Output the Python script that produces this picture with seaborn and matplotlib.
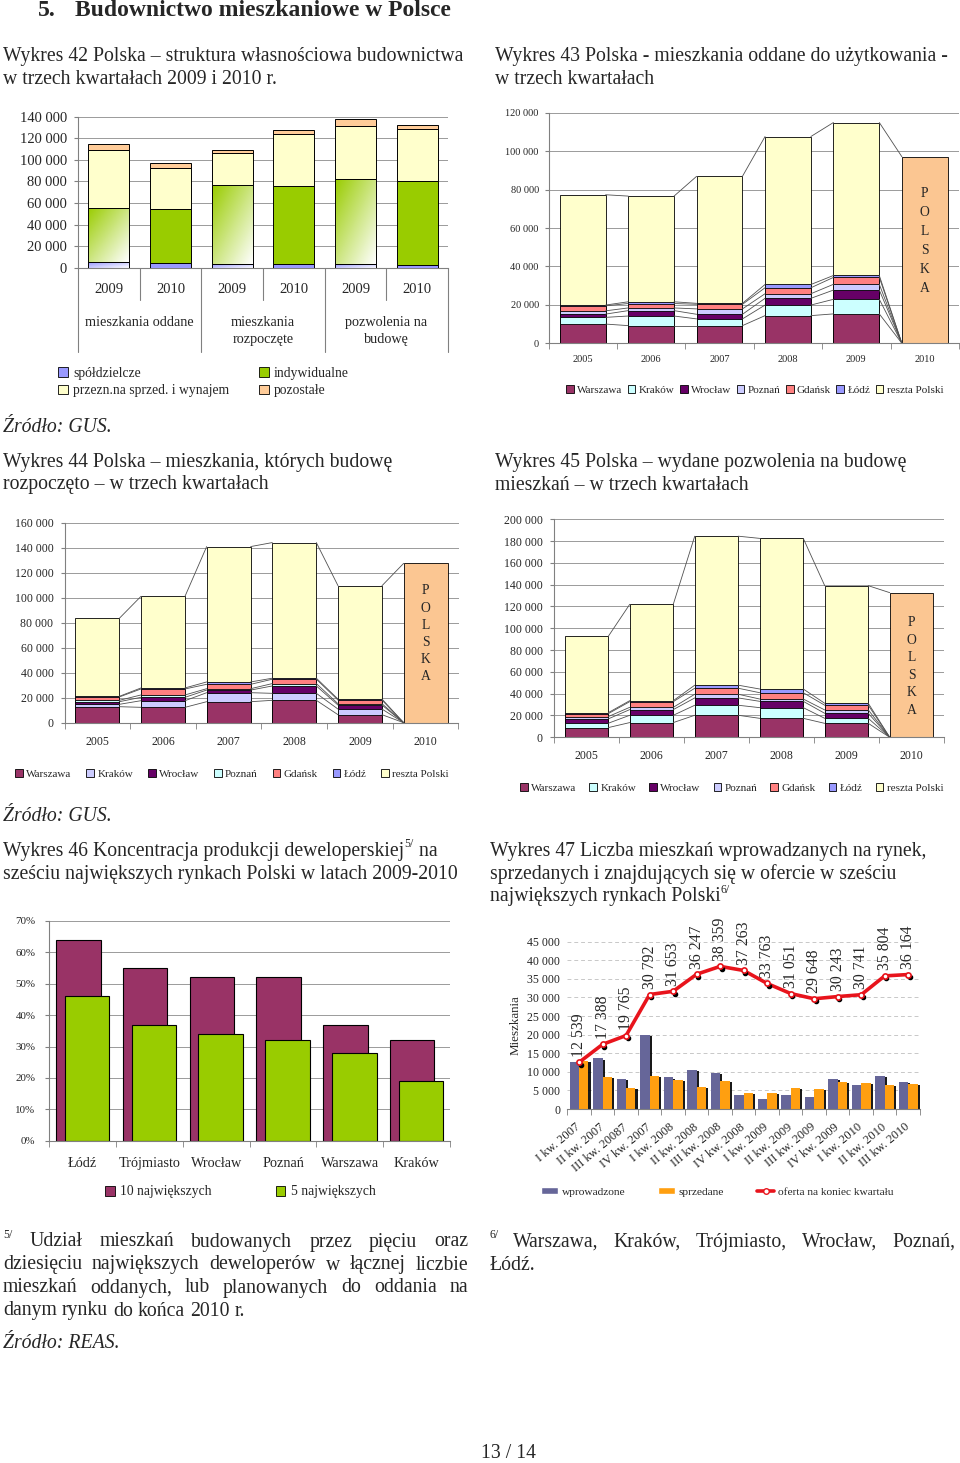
import numpy as np
import pandas as pd
import matplotlib
matplotlib.use('Agg')
import matplotlib.pyplot as plt
import matplotlib.patheffects as pe
import seaborn as sns
from matplotlib.patches import Patch
from matplotlib.lines import Line2D
from matplotlib.ticker import FuncFormatter, MultipleLocator, FixedLocator
from matplotlib.colors import LinearSegmentedColormap
from matplotlib.transforms import blended_transform_factory, ScaledTranslation

# ---- Wykres 42: struktura wlasnosciowa ----
kat42 = ['2009', '2010', '2009', '2010', '2009', '2010']
grupy42 = ['mieszkania oddane', 'mieszkania\nrozpoczęte', 'pozwolenia na\nbudowę']
spoldzielcze = [5000, 4000, 3100, 3100, 3100, 2500]
indywidualne = [50600, 50100, 73200, 72300, 79400, 77600]
przeznaczone = [53500, 38000, 29700, 48200, 48500, 48800]
pozostale = [5200, 4700, 3400, 4000, 6800, 3100]

# ---- miasta (Wykresy 43-45), 2010 = cala Polska w ostatniej serii ----
lata = ['2005', '2006', '2007', '2008', '2009', '2010']
miasta = ['Warszawa', 'Kraków', 'Wrocław', 'Poznań', 'Gdańsk', 'Łódź', 'reszta Polski']

odd_warszawa = [10000, 9200, 9200, 14400, 15300, 0]
odd_krakow = [3500, 5000, 3500, 5500, 7600, 0]
odd_wroclaw = [1700, 2800, 2400, 3500, 4800, 0]
odd_poznan = [1700, 1400, 2800, 2400, 3000, 0]
odd_gdansk = [2600, 2300, 2400, 3100, 3600, 0]
odd_lodz = [400, 900, 500, 1700, 1000, 0]
odd_reszta = [57400, 55000, 66100, 77000, 79600, 97100]

roz_warszawa = [12800, 12300, 16800, 17900, 6400, 0]
roz_krakow = [1900, 5300, 7200, 5600, 4500, 0]
roz_wroclaw = [2100, 2700, 2100, 5900, 3200, 0]
roz_poznan = [1100, 1900, 1100, 1900, 1100, 0]
roz_gdansk = [2700, 4800, 3500, 3500, 2900, 0]
roz_lodz = [500, 800, 1900, 800, 800, 0]
roz_reszta = [62400, 73300, 108300, 108500, 90700, 127500]

poz_warszawa = [8900, 13500, 20200, 17400, 12800, 0]
poz_krakow = [4000, 6700, 9200, 9800, 4600, 0]
poz_wroclaw = [4000, 5200, 6700, 5800, 4600, 0]
poz_poznan = [2100, 2100, 3400, 2100, 3100, 0]
poz_gdansk = [2700, 5200, 5500, 5800, 4300, 0]
poz_lodz = [900, 900, 2800, 3400, 1800, 0]
poz_reszta = [70000, 88400, 136700, 138200, 107900, 132700]

# ---- Wykres 46 ----
rynki46 = ['Łódź', 'Trójmiasto', 'Wrocław', 'Poznań', 'Warszawa', 'Kraków']
top10 = [64, 55, 52, 52, 37, 32]
top5 = [46, 37, 34, 32, 28, 19]

# ---- Wykres 47 ----
kwartaly = ['I kw. 2007', 'II kw. 2007', 'III kw. 20087', 'IV kw. 2007',
            'I kw. 2008', 'II kw. 2008', 'III kw. 2008', 'IV kw. 2008',
            'I kw. 2009', 'II kw. 2009', 'III kw. 2009', 'IV kw. 2009',
            'I kw. 2010', 'II kw. 2010', 'III kw. 2010']
wprowadzone = [12600, 13600, 8000, 19900, 8500, 10600, 9700, 3800, 2600, 3800, 3300, 8100, 6500, 8900, 7300]
sprzedane = [13000, 8700, 5600, 8900, 7800, 6000, 7500, 4400, 4300, 5700, 5300, 7300, 7100, 6400, 6700]
oferta = [12539, 17388, 19765, 30792, 31653, 36247, 38359, 37263, 33763, 31051, 29648, 30243, 30741, 35804, 36164]

# colours
MAROON = '#993366'
CYAN = '#CCFFFF'
PLUM = '#660066'
LAV = '#CCCCFF'
SALMON = '#FF8080'
BLUEL = '#9999FF'
CREAM = '#FFFFCC'
PEACH = '#FBC692'
GREEN = '#99CC00'
GRID = '#9a9a9a'
AXC = '#808080'

sns.set_style('white')
plt.rcParams['font.family'] = ['Liberation Serif', 'DejaVu Serif']

W, H = 960, 1463
fig = plt.figure(figsize=(9.6, 14.63), dpi=100)
renderer = fig.canvas.get_renderer()


def box(x0, y0, x1, y1):
    return fig.add_axes([x0 / W, 1 - y1 / H, (x1 - x0) / W, (y1 - y0) / H])


def ftext(x, y, s, **kw):
    kw.setdefault('va', 'center')
    return fig.text(x / W, 1 - y / H, s, **kw)


def wpx(t):
    return t.get_window_extent(renderer=renderer).width


def runs(x, y, parts):
    for s, size, dy in parts:
        t = ftext(x, y - dy, s, fontsize=size)
        x += wpx(t)


def justify(x0, x1, y, line, size, last=False):
    words = line.split()
    ts = [ftext(x0, y, w, fontsize=size) for w in words]
    ws = [wpx(t) for t in ts]
    gap = size * 100 / 72 * 0.25 if last else (x1 - x0 - sum(ws)) / (len(ws) - 1)
    x = x0
    for t, w in zip(ts, ws):
        t.set_x(x / W)
        x += w + gap


tys = FuncFormatter(lambda v, _: f'{int(round(v)):,}'.replace(',', ' '))


def base_style(ax, ymax, step, fs, pad, ls='-'):
    ax.set_ylim(0, ymax)
    ax.yaxis.set_major_locator(MultipleLocator(step))
    ax.grid(axis='y', color=GRID, lw=0.7, ls=ls)
    ax.grid(axis='x', visible=False)
    ax.set_axisbelow(True)
    for s in ['top', 'right']:
        ax.spines[s].set_visible(False)
    for s in ['left', 'bottom']:
        ax.spines[s].set_color(AXC)
        ax.spines[s].set_linewidth(0.8)
    ax.tick_params(axis='y', left=True, labelsize=fs, length=3, color=AXC, pad=pad)
    ax.set_xlabel('')
    ax.set_ylabel('')


def boundary_ticks(ax, n, fs, pad):
    ax.set_xlim(-0.5, n - 0.5)
    ax.xaxis.set_minor_locator(FixedLocator(np.arange(-0.5, n, 1)))
    ax.tick_params(axis='x', which='minor', bottom=True, length=4, color=AXC)
    ax.tick_params(axis='x', which='major', bottom=True, length=0, labelsize=fs, pad=pad)


def grad_fill(ax, patch, color):
    x0, y0 = patch.get_x(), patch.get_y()
    w, h = patch.get_width(), patch.get_height()
    gx, gy = np.meshgrid(np.linspace(0, 1, 64), np.linspace(0, 1, 64))
    cmap = LinearSegmentedColormap.from_list('g', [color, 'white'])
    ax.imshow((gx + gy) / 2, extent=(x0, x0 + w, y0, y0 + h), origin='upper', cmap=cmap,
              aspect='auto', interpolation='bilinear', zorder=2.5)
    patch.set_facecolor('none')


# ---------------- page text ----------------
T = 14.2
ftext(38, 11, '5.', fontsize=17, weight='bold')
ftext(75, 11, 'Budownictwo mieszkaniowe w Polsce', fontsize=17, weight='bold')
ftext(3, 57, 'Wykres 42 Polska – struktura własnościowa budownictwa', fontsize=T)
ftext(3, 80, 'w trzech kwartałach 2009 i 2010 r.', fontsize=T)
ftext(495, 57, 'Wykres 43 Polska - mieszkania oddane do użytkowania -', fontsize=T)
ftext(495, 80, 'w trzech kwartałach', fontsize=T)
ftext(3, 428, 'Źródło: GUS.', fontsize=T, style='italic')
ftext(3, 462, 'Wykres 44 Polska – mieszkania, których budowę', fontsize=T)
ftext(3, 485, 'rozpoczęto – w trzech kwartałach', fontsize=T)
ftext(495, 462, 'Wykres 45 Polska – wydane pozwolenia na budowę', fontsize=T)
ftext(495, 485, 'mieszkań – w trzech kwartałach', fontsize=T)
ftext(3, 816, 'Źródło: GUS.', fontsize=T, style='italic')
runs(3, 851, [('Wykres 46 Koncentracja produkcji deweloperskiej', T, 0), ('5/', 8.5, 7), (' na', T, 0)])
ftext(3, 874, 'sześciu największych rynkach Polski w latach 2009-2010', fontsize=T)
ftext(490, 851, 'Wykres 47 Liczba mieszkań wprowadzanych na rynek,', fontsize=T)
ftext(490, 874, 'sprzedanych i znajdujących się w ofercie w sześciu', fontsize=T)
runs(490, 897, [('największych rynkach Polski', T, 0), ('6/', 8.5, 7)])

ftext(3, 1235, '5/', fontsize=8.5)
justify(30, 468, 1242, 'Udział mieszkań budowanych przez pięciu oraz', T)
justify(3, 468, 1265, 'dziesięciu największych deweloperów w łącznej liczbie', T)
justify(3, 468, 1288, 'mieszkań oddanych, lub planowanych do oddania na', T)
justify(3, 468, 1311, 'danym rynku do końca 2010 r.', T, last=True)
ftext(490, 1235, '6/', fontsize=8.5)
justify(513, 955, 1242, 'Warszawa, Kraków, Trójmiasto, Wrocław, Poznań,', T)
ftext(490, 1265, 'Łódź.', fontsize=T)
ftext(3, 1344, 'Źródło: REAS.', fontsize=T, style='italic')
ftext(508, 1454, '13 / 14', fontsize=T, ha='center')

# ---------------- Wykres 42 ----------------
ax = box(78, 116.7, 448, 267.7)
COL42 = ['#9999FF', GREEN, CREAM, '#FFCC99']
x42 = np.arange(len(kat42))
bottom = np.zeros(len(kat42))
conts = []
for vals, col in zip([spoldzielcze, indywidualne, przeznaczone, pozostale], COL42):
    c = ax.bar(x42, vals, bottom=bottom, width=0.66, color=col, edgecolor='black', linewidth=0.7, zorder=3)
    conts.append(c)
    bottom = bottom + np.array(vals)
for i in [0, 2, 4]:
    grad_fill(ax, conts[0].patches[i], COL42[0])
    grad_fill(ax, conts[1].patches[i], COL42[1])
base_style(ax, 140000, 20000, 10.5, 5)
ax.yaxis.set_major_formatter(tys)
ax.set_xlim(-0.5, 5.5)
ax.set_xticks([])
tr = blended_transform_factory(ax.transData, ax.transAxes)
for i, r in enumerate(kat42):
    ax.text(i, -0.146, r, transform=tr, ha='center', va='center', fontsize=10.5)
for g, txt in enumerate(grupy42):
    ax.text(2 * g + 0.5, -0.318, txt, transform=tr, ha='center', va='top', fontsize=10.3, linespacing=1.45)
for k, xb in enumerate(np.arange(-0.5, 6, 1)):
    ax.plot([xb, xb], [0, -0.556 if k % 2 == 0 else -0.212], transform=tr, color=AXC, lw=0.8, clip_on=False)
fig.legend(handles=[Patch(fc=c, ec='black', lw=0.6) for c in [COL42[0], COL42[2], COL42[1], COL42[3]]],
           labels=['spółdzielcze', 'przezn.na sprzed. i wynajem', 'indywidualne', 'pozostałe'],
           ncol=2, loc='center left', bbox_to_anchor=(58 / W, 1 - 382 / H), fontsize=9.8,
           handlelength=0.7, handleheight=0.7, handletextpad=0.4, labelspacing=0.3,
           columnspacing=2.2, frameon=False, borderpad=0, borderaxespad=0)


# ---------------- Wykresy 43-45 ----------------
def city_chart(rect, series, colors, ymax, fs, pad_x, pad_y, letter_y, lsp, leg_x, leg_y, colsp):
    ax = box(*rect)
    cum = np.cumsum(np.array(series, dtype=float), axis=0)
    for k in range(len(series) - 1, -1, -1):
        sns.barplot(x=lata, y=cum[k], color=colors[k], width=0.67, saturation=1,
                    edgecolor='black', linewidth=0.6, errorbar=None, ax=ax)
    ax.patches[len(lata) - 1].set_facecolor(PEACH)
    for k in range(len(series)):
        for i in range(len(lata) - 1):
            ax.plot([i + 0.335, i + 0.665], [cum[k][i], cum[k][i + 1]], color='#505050', lw=0.6, zorder=2)
    polska = cum[-1][-1]
    ax.text(len(lata) - 1, polska * letter_y, 'P\nO\nL\nS\nK\nA', ha='center', va='center',
            fontsize=9.8, linespacing=lsp, zorder=5)
    base_style(ax, ymax, 20000, fs, pad_y)
    ax.yaxis.set_major_formatter(tys)
    boundary_ticks(ax, len(lata), fs, pad_x)
    fig.legend(handles=[Patch(fc=c, ec='black', lw=0.6) for c in colors], labels=miasta,
               ncol=7, loc='center left', bbox_to_anchor=(leg_x / W, 1 - leg_y / H), fontsize=8,
               handlelength=0.7, handleheight=0.7, handletextpad=0.3, columnspacing=colsp,
               frameon=False, borderpad=0, borderaxespad=0)
    return ax


city_chart((548.5, 112.7, 959, 343.3),
           [odd_warszawa, odd_krakow, odd_wroclaw, odd_poznan, odd_gdansk, odd_lodz, odd_reszta],
           [MAROON, CYAN, PLUM, LAV, SALMON, BLUEL, CREAM], 120000, 7.5, 8.5, 4, 0.55, 1.6, 566, 390, 0.48)
city_chart((64.5, 522.7, 458.5, 722.7),
           [roz_warszawa, roz_krakow, roz_wroclaw, roz_poznan, roz_gdansk, roz_lodz, roz_reszta],
           [MAROON, LAV, PLUM, CYAN, SALMON, BLUEL, CREAM], 160000, 8.5, 9.5, 5, 0.557, 1.42, 15, 774, 1.33)
city_chart((554, 519.3, 944, 737.3),
           [poz_warszawa, poz_krakow, poz_wroclaw, poz_poznan, poz_gdansk, poz_lodz, poz_reszta],
           [MAROON, CYAN, PLUM, LAV, SALMON, BLUEL, CREAM], 200000, 8.5, 9, 5, 0.49, 1.45, 520, 788, 1.17)

# ---------------- Wykres 46 ----------------
ax = box(49.3, 921, 450, 1140.7)
off = 0.066
sns.barplot(x=rynki46, y=top10, color=MAROON, width=0.667, saturation=1, edgecolor='black',
            linewidth=0.8, errorbar=None, ax=ax)
for p in ax.patches:
    p.set_x(p.get_x() - off)
n_first = len(ax.patches)
sns.barplot(x=rynki46, y=top5, color=GREEN, width=0.667, saturation=1, edgecolor='black',
            linewidth=0.8, errorbar=None, ax=ax)
for p in ax.patches[n_first:]:
    p.set_x(p.get_x() + off)
base_style(ax, 70, 10, 7.9, 7)
ax.yaxis.set_major_formatter(FuncFormatter(lambda v, _: f'{v:.0f}%'))
boundary_ticks(ax, len(rynki46), 10.3, 11.5)
fig.legend(handles=[Patch(fc=MAROON, ec='black', lw=0.6), Patch(fc=GREEN, ec='black', lw=0.6)],
           labels=['10 największych', '5 największych'], ncol=2, loc='center left',
           bbox_to_anchor=(105 / W, 1 - 1192 / H), fontsize=9.8, handlelength=0.7, handleheight=0.7,
           handletextpad=0.4, columnspacing=4.7, frameon=False, borderpad=0, borderaxespad=0)

# ---------------- Wykres 47 ----------------
BLUE = '#666699'
ORANGE = '#FF9F10'
RED = '#E8141C'
ax = box(567.3, 941.7, 920, 1109)
df47 = pd.DataFrame({'kw': kwartaly * 2,
                     'seria': ['wprowadzone'] * len(kwartaly) + ['sprzedane'] * len(kwartaly),
                     'val': wprowadzone + sprzedane})
sns.barplot(data=df47, x='kw', y='val', hue='seria', palette={'wprowadzone': BLUE, 'sprzedane': ORANGE},
            width=0.8, saturation=1, linewidth=0, errorbar=None, legend=False, ax=ax)
for p in ax.patches:
    p.set_path_effects([pe.SimplePatchShadow(offset=(1.6, -0.8), shadow_rgbFace='black', alpha=0.9), pe.Normal()])
xs = np.arange(len(kwartaly))
sns.lineplot(x=xs, y=oferta, color=RED, lw=2.6, ax=ax, zorder=5)
shift = ax.transData + ScaledTranslation(1.5 / 100, -2.5 / 100, fig.dpi_scale_trans)
ax.scatter(xs, oferta, s=9, color='black', transform=shift, zorder=6)
ax.scatter(xs, oferta, s=14, facecolor='white', edgecolor=RED, linewidth=1.2, zorder=7)
for i, v in enumerate(oferta):
    ax.annotate(f'{v:,}'.replace(',', ' '), (i, v), xytext=(0, 4), textcoords='offset points',
                rotation=90, ha='center', va='bottom', fontsize=11.3)
base_style(ax, 45000, 5000, 8.6, 5, ls=(0, (4, 3)))
ax.yaxis.set_major_formatter(tys)
ax.grid(axis='y', color='#c8c8c8', lw=0.7, ls=(0, (4, 3)))
ax.spines['left'].set_visible(False)
ax.tick_params(axis='y', length=0)
ax.set_ylabel('Mieszkania', fontsize=9.4, labelpad=4)
boundary_ticks(ax, len(kwartaly), 9, 12)
ax.set_xticks(xs)
ax.set_xticklabels(kwartaly, rotation=40, ha='right', va='center', rotation_mode='anchor', fontsize=9)
fig.legend(handles=[Patch(fc=BLUE), Patch(fc=ORANGE),
                    Line2D([0], [0], color=RED, lw=2.6, marker='o', mfc='white', mec=RED, ms=4)],
           labels=['wprowadzone', 'sprzedane', 'oferta na koniec kwartału'], ncol=3, loc='center left',
           bbox_to_anchor=(541 / W, 1 - 1192 / H), fontsize=8.2, handlelength=1.5, handleheight=0.6,
           handletextpad=0.3, columnspacing=2.9, frameon=False, borderpad=0, borderaxespad=0)

fig.savefig('out.png', dpi=100, facecolor='white')
